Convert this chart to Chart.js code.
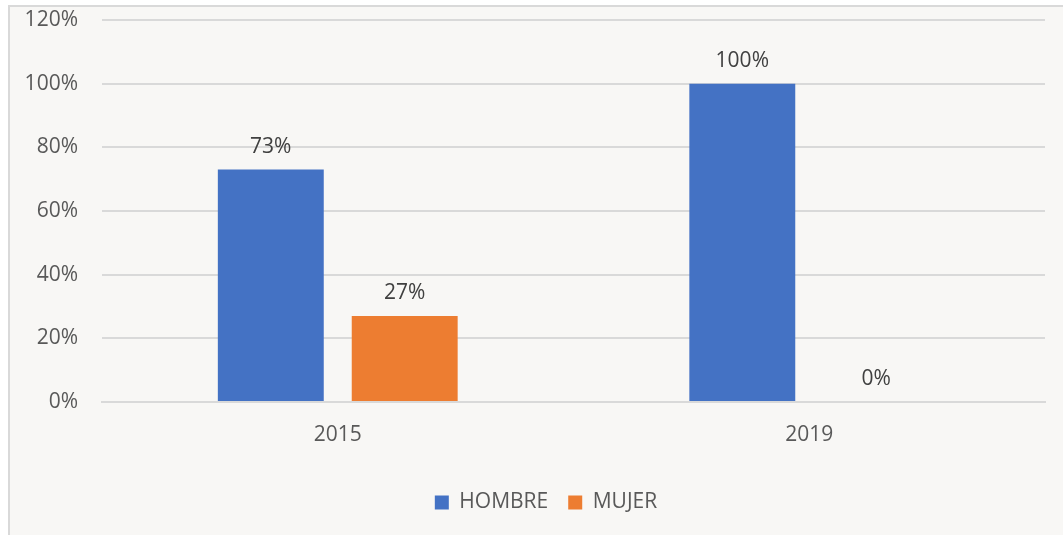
<!DOCTYPE html>
<html>
<head>
<meta charset="utf-8">
<script src="https://cdn.jsdelivr.net/npm/chart.js@4"></script>
<style>
html,body{margin:0;padding:0;background:#ffffff;}
#wrap{position:absolute;left:0;top:0;width:1063px;height:535px;}
</style>
</head>
<body>
<div id="wrap"><canvas id="c" width="1063" height="535"></canvas></div>
<script>
const categories = ['2015', '2019'];
const hombre = [73, 100];
const mujer = [27, 0];
const seriesNames = ['HOMBRE', 'MUJER'];
const yTicks = [0, 20, 40, 60, 80, 100, 120];

const FONT = '"Open Sans", sans-serif';
const TEXT = '#595959';

const bgPlugin = {
  id: 'bg',
  beforeDraw(chart) {
    const ctx = chart.ctx;
    ctx.save();
    ctx.fillStyle = '#ffffff';
    ctx.fillRect(0, 0, chart.width, chart.height);
    ctx.fillStyle = '#f8f7f5';
    ctx.fillRect(8, 5, chart.width - 8, chart.height - 5);
    ctx.strokeStyle = '#d9d9d9';
    ctx.lineWidth = 2;
    ctx.beginPath();
    ctx.moveTo(9, chart.height);
    ctx.lineTo(9, 6);
    ctx.lineTo(chart.width, 6);
    ctx.stroke();
    ctx.restore();
  }
};

const legendShift = {
  id: 'legendShift',
  afterLayout(chart) {
    if (chart.legend) { chart.legend.left += 47; }
  }
};

const labelPlugin = {
  id: 'dataLabels',
  afterDatasetsDraw(chart) {
    const ctx = chart.ctx;
    ctx.save();
    ctx.font = '21px ' + FONT;
    ctx.fillStyle = '#404040';
    ctx.textAlign = 'center';
    ctx.textBaseline = 'middle';
    chart.data.datasets.forEach((ds, i) => {
      const meta = chart.getDatasetMeta(i);
      meta.data.forEach((bar, j) => {
        ctx.fillText(ds.data[j] + '%', bar.x, bar.y - 23);
      });
    });
    ctx.restore();
  }
};

new Chart(document.getElementById('c'), {
  type: 'bar',
  data: {
    labels: categories,
    datasets: [
      { label: seriesNames[0], data: hombre, backgroundColor: '#4472c4' },
      { label: seriesNames[1], data: mujer, backgroundColor: '#ed7d31' }
    ]
  },
  options: {
    responsive: false,
    animation: false,
    devicePixelRatio: 1,
    categoryPercentage: 0.568,
    barPercentage: 0.791,
    layout: { padding: { left: 0, right: 18, top: 20, bottom: 12 } },
    plugins: {
      tooltip: { enabled: false },
      legend: {
        position: 'bottom',
        labels: {
          font: { family: FONT, size: 21 },
          color: TEXT,
          boxWidth: 14,
          boxHeight: 14,
          padding: 20
        }
      }
    },
    scales: {
      x: {
        grid: { display: false },
        border: { display: true, color: '#d9d9d9', width: 2 },
        ticks: { font: { family: FONT, size: 21 }, color: TEXT, padding: 12 },
        afterFit(s) { s.height = 70; }
      },
      y: {
        min: 0,
        max: 120,
        afterBuildTicks(s) { s.ticks = yTicks.map(v => ({ value: v })); },
        grid: { color: '#d9d9d9', lineWidth: 2, drawTicks: false },
        border: { display: false },
        ticks: {
          font: { family: FONT, size: 21 },
          color: TEXT,
          padding: 24,
          callback: v => v + '%'
        },
        afterFit(s) { s.width = 102; s.paddingTop = 0; s.paddingBottom = 0; }
      }
    }
  },
  plugins: [bgPlugin, legendShift, labelPlugin]
});
</script>
</body>
</html>
